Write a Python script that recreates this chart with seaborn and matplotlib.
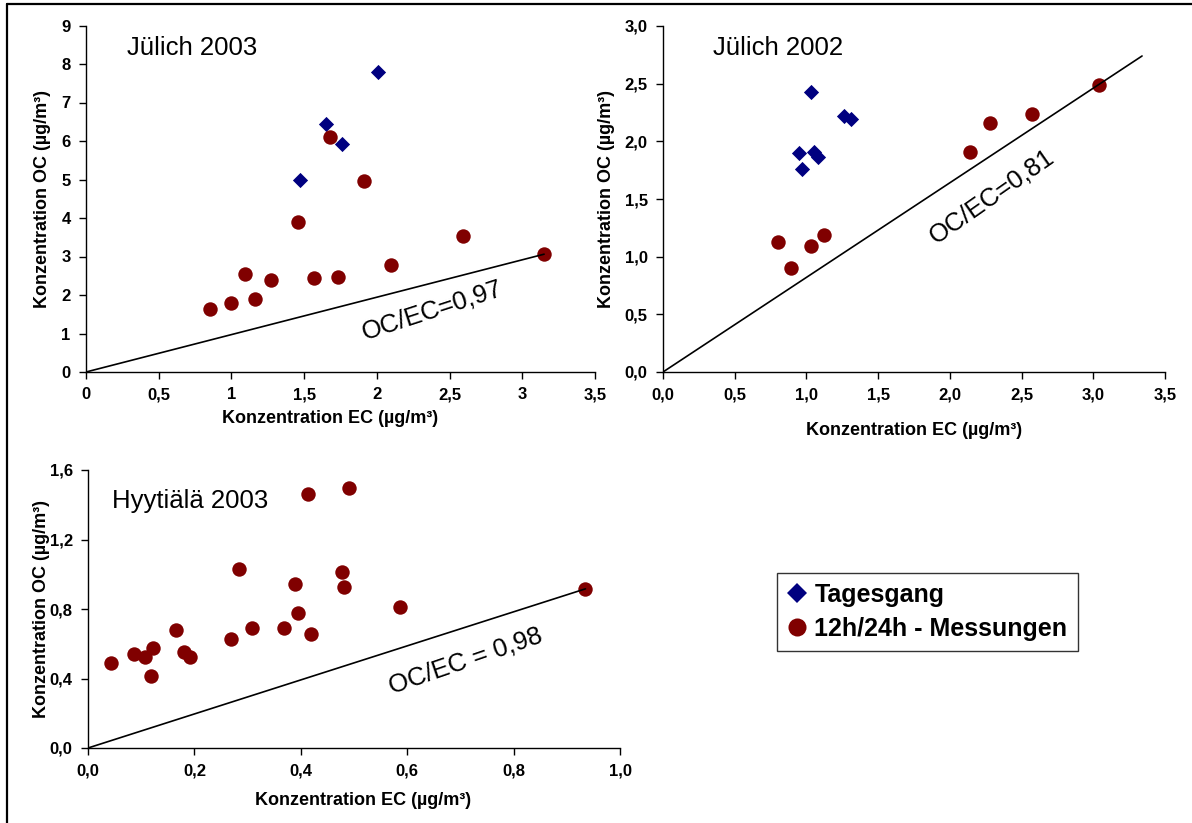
import matplotlib
matplotlib.use("Agg")
import matplotlib.pyplot as plt
from matplotlib.lines import Line2D
import seaborn as sns
import pandas as pd

# ---------------- data ----------------
# Jülich 2003
j03_tag_ec = [2.01, 1.65, 1.76, 1.47]
j03_tag_oc = [7.80, 6.44, 5.92, 5.00]
j03_mes_ec = [1.68, 1.91, 1.46, 2.59, 3.15, 2.10, 1.09, 1.27, 1.57, 1.73, 0.85, 1.00, 1.16]
j03_mes_oc = [6.10, 4.96, 3.90, 3.54, 3.06, 2.79, 2.55, 2.38, 2.43, 2.46, 1.63, 1.79, 1.90]
j03_line_ec = [0.0, 3.15]
j03_line_oc = [0.0, 3.06]

# Jülich 2002
j02_tag_ec = [1.03, 1.26, 1.31, 0.95, 1.05, 1.08, 0.97]
j02_tag_oc = [2.43, 2.22, 2.19, 1.90, 1.91, 1.86, 1.76]
j02_mes_ec = [3.04, 2.57, 2.28, 2.14, 0.80, 0.89, 1.03, 1.12]
j02_mes_oc = [2.49, 2.24, 2.16, 1.91, 1.13, 0.90, 1.09, 1.19]
j02_line_ec = [0.0, 3.34]
j02_line_oc = [0.0, 2.74]

# Hyytiälä 2003
hy_mes_ec = [0.044, 0.086, 0.108, 0.122, 0.118, 0.165, 0.180, 0.192, 0.268, 0.284, 0.308,
             0.368, 0.390, 0.394, 0.413, 0.419, 0.477, 0.481, 0.491, 0.587, 0.935]
hy_mes_oc = [0.492, 0.540, 0.526, 0.574, 0.417, 0.679, 0.555, 0.526, 0.628, 1.028, 0.693,
             0.693, 0.945, 0.775, 1.464, 0.655, 1.011, 0.924, 1.499, 0.810, 0.917]
hy_line_ec = [0.0, 0.935]
hy_line_oc = [0.0, 0.916]

# ticks
j03_xticks = [0, 0.5, 1, 1.5, 2, 2.5, 3, 3.5]
j03_xlabels = ["0", "0,5", "1", "1,5", "2", "2,5", "3", "3,5"]
j03_yticks = [0, 1, 2, 3, 4, 5, 6, 7, 8, 9]
j03_ylabels = ["0", "1", "2", "3", "4", "5", "6", "7", "8", "9"]
j02_xticks = [0, 0.5, 1, 1.5, 2, 2.5, 3, 3.5]
j02_xlabels = ["0,0", "0,5", "1,0", "1,5", "2,0", "2,5", "3,0", "3,5"]
j02_yticks = [0, 0.5, 1, 1.5, 2, 2.5, 3]
j02_ylabels = ["0,0", "0,5", "1,0", "1,5", "2,0", "2,5", "3,0"]
hy_xticks = [0, 0.2, 0.4, 0.6, 0.8, 1.0]
hy_xlabels = ["0,0", "0,2", "0,4", "0,6", "0,8", "1,0"]
hy_yticks = [0, 0.4, 0.8, 1.2, 1.6]
hy_ylabels = ["0,0", "0,4", "0,8", "1,2", "1,6"]

series_names = ["Tagesgang", "12h/24h - Messungen"]
titles = ["Jülich 2003", "Jülich 2002", "Hyytiälä 2003"]
ratio_texts = ["OC/EC=0,97", "OC/EC=0,81", "OC/EC = 0,98"]
xlabel = "Konzentration EC (µg/m³)"
ylabel = "Konzentration OC (µg/m³)"

# ---------------- style ----------------
sns.set_theme(style="white")
plt.rcParams["font.family"] = ["Liberation Sans", "DejaVu Sans"]
plt.rcParams["text.color"] = "black"
plt.rcParams["axes.labelcolor"] = "black"
plt.rcParams["xtick.color"] = "black"
plt.rcParams["ytick.color"] = "black"

BLUE = "#000080"
RED = "#800000"
W, H = 1192, 823

fig = plt.figure(figsize=(W / 100, H / 100), dpi=100)
fig.patch.set_facecolor("white")


def px_axes(x0, x1, y_top, y_bot):
    return fig.add_axes([x0 / W, 1 - y_bot / H, (x1 - x0) / W, (y_bot - y_top) / H])


ax1 = px_axes(86, 595, 25.5, 372)
ax2 = px_axes(663, 1165, 26, 372)
ax3 = px_axes(88, 620, 470, 748)


def scatter(ax, ec, oc, name):
    df = pd.DataFrame({"EC": ec, "OC": oc, "Serie": name})
    if name == series_names[0]:
        sns.scatterplot(data=df, x="EC", y="OC", marker="D", color=BLUE, s=60,
                        linewidth=0, ax=ax, legend=False, zorder=3)
    else:
        sns.scatterplot(data=df, x="EC", y="OC", marker="o", color=RED, s=108,
                        linewidth=0, ax=ax, legend=False, zorder=3)


def style_axes(ax, xlim, ylim, xt, xl, yt, yl, xlab_pos, ylab_pos):
    ax.set_xlim(*xlim)
    ax.set_ylim(*ylim)
    ax.set_xticks(xt)
    ax.set_xticklabels(xl)
    ax.set_yticks(yt)
    ax.set_yticklabels(yl)
    for side in ["top", "right"]:
        ax.spines[side].set_visible(False)
    for side in ["left", "bottom"]:
        ax.spines[side].set_color("black")
        ax.spines[side].set_linewidth(1.0)
    ax.tick_params(axis="both", direction="out", length=5, width=1, color="black",
                   labelcolor="black", labelsize=12, pad=6, bottom=True, left=True)
    for lab in ax.get_xticklabels() + ax.get_yticklabels():
        lab.set_fontweight("bold")
    ax.set_xlabel(xlabel, fontsize=13, fontweight="bold", color="black")
    ax.set_ylabel(ylabel, fontsize=13, fontweight="bold", color="black")
    ax.xaxis.set_label_coords(*xlab_pos)
    ax.xaxis.label.set_va("center")
    ax.yaxis.set_label_coords(*ylab_pos)
    ax.yaxis.label.set_va("center")
    ax.grid(False)
    ax.set_facecolor("white")


# Panel 1: Jülich 2003
scatter(ax1, j03_tag_ec, j03_tag_oc, series_names[0])
scatter(ax1, j03_mes_ec, j03_mes_oc, series_names[1])
sns.lineplot(x=j03_line_ec, y=j03_line_oc, color="black", linewidth=1.2, ax=ax1, zorder=4)
style_axes(ax1, (0, 3.5), (0, 9), j03_xticks, j03_xlabels, j03_yticks, j03_ylabels,
           (0.48, -0.135), (-0.086, 0.5))
ax1.text(0.08, 0.935, titles[0], transform=ax1.transAxes, fontsize=18.5, va="center",
         ha="left", color="black")
ax1.text(2.38, 1.61, ratio_texts[0], fontsize=18.5, rotation=18, ha="center", va="center",
         color="black")

# Panel 2: Jülich 2002
scatter(ax2, j02_tag_ec, j02_tag_oc, series_names[0])
scatter(ax2, j02_mes_ec, j02_mes_oc, series_names[1])
sns.lineplot(x=j02_line_ec, y=j02_line_oc, color="black", linewidth=1.2, ax=ax2, zorder=4)
style_axes(ax2, (0, 3.5), (0, 3.0), j02_xticks, j02_xlabels, j02_yticks, j02_ylabels,
           (0.5, -0.168), (-0.112, 0.5))
ax2.text(0.1, 0.935, titles[1], transform=ax2.transAxes, fontsize=18.5, va="center",
         ha="left", color="black")
ax2.text(2.29, 1.52, ratio_texts[1], fontsize=18.5, rotation=35, ha="center", va="center",
         color="black")

# Panel 3: Hyytiälä 2003
scatter(ax3, hy_mes_ec, hy_mes_oc, series_names[1])
sns.lineplot(x=hy_line_ec, y=hy_line_oc, color="black", linewidth=1.2, ax=ax3, zorder=4)
style_axes(ax3, (0, 1.0), (0, 1.6), hy_xticks, hy_xlabels, hy_yticks, hy_ylabels,
           (0.517, -0.19), (-0.0865, 0.5))
ax3.text(0.045, 0.89, titles[2], transform=ax3.transAxes, fontsize=18.5, va="center",
         ha="left", color="black")
ax3.text(0.71, 0.50, ratio_texts[2], fontsize=18.5, rotation=19, ha="center", va="center",
         color="black")

# Legend
handles = [
    Line2D([], [], marker="D", linestyle="none", color=BLUE, markersize=10, markeredgewidth=0),
    Line2D([], [], marker="o", linestyle="none", color=RED, markersize=13, markeredgewidth=0),
]
leg = fig.legend(handles, series_names, loc="upper left",
                 bbox_to_anchor=(777 / W, 1 - 573 / H), frameon=True, fancybox=False,
                 prop={"size": 18, "weight": "bold"}, handlelength=0.8, handletextpad=0.3,
                 borderpad=0.4, labelspacing=0.4, borderaxespad=0)
leg.get_frame().set_edgecolor("black")
leg.get_frame().set_linewidth(1.0)
for t in leg.get_texts():
    t.set_color("black")

# Figure border lines (top and left)
fig.add_artist(Line2D([7 / W, 1.0], [1 - 4 / H, 1 - 4 / H], transform=fig.transFigure,
                      color="black", linewidth=1.6))
fig.add_artist(Line2D([7 / W, 7 / W], [0.0, 1 - 4 / H], transform=fig.transFigure,
                      color="black", linewidth=1.6))

fig.savefig("out.png", dpi=100)
